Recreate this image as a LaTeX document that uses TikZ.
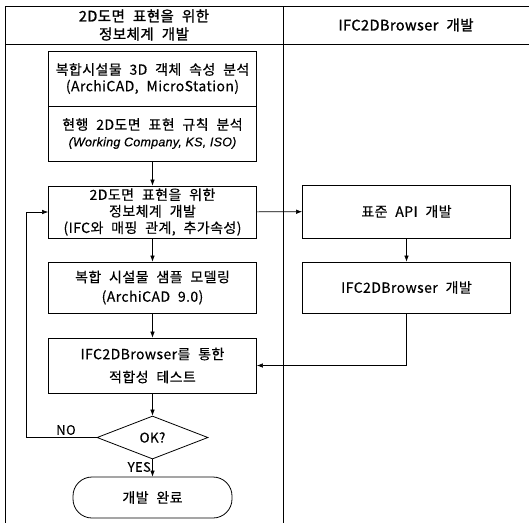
\documentclass[tikz,border=0pt]{standalone}
\usepackage{fontspec}
\setmainfont{Noto Sans CJK KR}[LetterSpace=3,WordSpace=2.2,FakeBold=0.4]
\newfontfamily\hdrfont{Noto Sans CJK KR}[LetterSpace=3,WordSpace=2.2,FakeBold=1.3]
\newfontfamily\latinit{Liberation Sans}[LetterSpace=2,FakeBold=0.4]
\usetikzlibrary{shapes.geometric,arrows.meta}
\begin{document}
\begin{tikzpicture}[x=1pt,y=-1pt,
  frame/.style={line width=0.8pt},
  box/.style={draw,line width=0.8pt,minimum width=208pt,inner sep=0pt,align=center,
    font=\fontsize{14}{16.5}\selectfont},
  hdr/.style={align=center,font=\hdrfont\fontsize{14.5}{18}\selectfont},
  arr/.style={-{Latex[length=6pt,width=4.5pt]},line width=0.6pt},
  lbl/.style={font=\fontsize{13}{14}\selectfont,inner sep=0pt}]
\useasboundingbox (0,0) rectangle (529,523);
% frame
\draw[frame] (5,6) -- (529,6);
\draw[frame] (5,44) -- (529,44);
\draw[frame] (5,6) -- (5,523);
\draw[frame] (283,6) -- (283,523);
\node[hdr] (h1) at (144,25) {2D도면 표현을 위한\\정보체계 개발};
\node[hdr] (h2) at (406,25) {IFC2DBrowser 개발};
% left column
\node[box,minimum height=55pt] (b1) at (152.5,78.5) {복합시설물 3D 객체 속성 분석\\(ArchiCAD, MicroStation)};
\node[box,minimum height=55pt] (b2) at (152.5,133.5) {현행 2D도면 표현 규칙 분석\\{\latinit\itshape\fontsize{12.5}{16}\selectfont (Working Company, KS, ISO)}};
\node[box,minimum height=52pt] (b3) at (152.5,212) {2D도면 표현을 위한\\정보체계 개발\\(IFC와 매핑 관계, 추가속성)};
\node[box,minimum height=51pt,font=\fontsize{14}{19.5}\selectfont] (b4) at (152.5,287.5) {복합 시설물 샘플 모델링\\(ArchiCAD 9.0)};
\node[box,minimum height=55pt,font=\fontsize{14}{23}\selectfont] (b5) at (152.5,365.5) {IFC2DBrowser를 통한\\적합성 테스트};
\node[draw,diamond,line width=0.8pt,minimum width=111pt,minimum height=43pt,inner sep=0pt,
  font=\fontsize{13.5}{16}\selectfont] (ok) at (152.5,437.5) {OK?};
\node[draw,line width=0.8pt,rounded corners=19pt,minimum width=159pt,minimum height=41pt,
  font=\fontsize{14}{16}\selectfont] (end) at (152.5,497.5) {개발 완료};
% right column
\node[box,minimum height=53pt] (api) at (406.5,211.5) {표준 API 개발};
\node[box,minimum height=51pt] (ifc) at (406.5,287.5) {IFC2DBrowser 개발};
% connectors
\draw[arr] (b2) -- (b3);
\draw[arr] (b3) -- (b4);
\draw[arr] (b4) -- (b5);
\draw[arr] (b5) -- (ok);
\draw[arr] (ok) -- (end);
\draw[arr] (b3) -- (api);
\draw[arr] (api) -- (ifc);
\draw[arr] (ifc.south) |- (b5.east);
\coordinate (lp) at (26,437.5);
\draw[arr] (ok.west) -- (lp) |- (b3.west);
\node[lbl] (no) at (66,430) {NO};
\node[lbl,anchor=east] (yes) at (151,467) {YES};
\end{tikzpicture}
\end{document}
